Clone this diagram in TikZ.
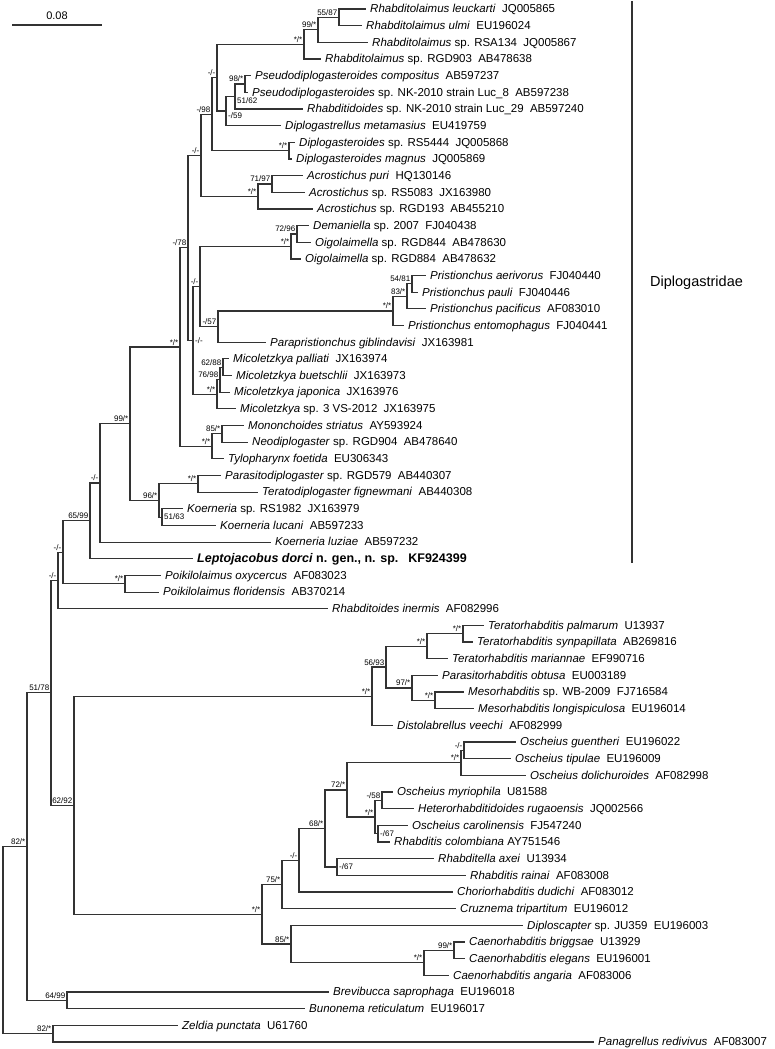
\documentclass[tikz,border=0pt]{standalone}
\usepackage{fontspec}
\setmainfont{Liberation Sans}
\usetikzlibrary{calc}
\newcommand{\accno}[1]{\hspace{0.55em}#1}
\begin{document}
\begin{tikzpicture}[x=1pt,y=-16.66pt,
  br/.style={line width=1.2pt, draw=black!80, line cap=rect},
  leaf/.style={anchor=base west, inner sep=0pt, xshift=5pt, yshift=-3.8pt, font=\fontsize{11.5}{13}\selectfont},
  lab/.style={anchor=south east, inner sep=0pt, xshift=-1.5pt, yshift=1.7pt, font=\fontsize{8}{9}\selectfont},
  labr/.style={anchor=west, inner sep=0pt, xshift=2pt, font=\fontsize{8}{9}\selectfont}]
\useasboundingbox (0,0.4598) rectangle (774,63.425);
% ---- leaf tips
\coordinate (t1) at (365,1);  \coordinate (t2) at (361,2);  \coordinate (t3) at (367,3);
\coordinate (t4) at (320,4);  \coordinate (t5) at (250,5);  \coordinate (t6) at (247,6);
\coordinate (t7) at (302,7);  \coordinate (t8) at (280,8);  \coordinate (t9) at (294,9);
\coordinate (t10) at (291,10); \coordinate (t11) at (302,11); \coordinate (t12) at (304,12);
\coordinate (t13) at (312,13); \coordinate (t14) at (308,14); \coordinate (t15) at (310,15);
\coordinate (t16) at (300,16); \coordinate (t17) at (425,17); \coordinate (t18) at (417,18);
\coordinate (t19) at (425,19); \coordinate (t20) at (403,20); \coordinate (t21) at (265,21);
\coordinate (t22) at (228,22); \coordinate (t23) at (231,23); \coordinate (t24) at (229,24);
\coordinate (t25) at (235,25); \coordinate (t26) at (243,26); \coordinate (t27) at (247,27);
\coordinate (t28) at (223,28); \coordinate (t29) at (220,29); \coordinate (t30) at (257,30);
\coordinate (t31) at (182,31); \coordinate (t32) at (215,32); \coordinate (t33) at (270,33);
\coordinate (t34) at (192,34); \coordinate (t35) at (160,35); \coordinate (t36) at (158,36);
\coordinate (t37) at (327,37); \coordinate (t38) at (483,38); \coordinate (t39) at (472,39);
\coordinate (t40) at (447,40); \coordinate (t41) at (437,41); \coordinate (t42) at (463,42);
\coordinate (t43) at (473,43); \coordinate (t44) at (392,44); \coordinate (t45) at (515,45);
\coordinate (t46) at (510,46); \coordinate (t47) at (525,47); \coordinate (t48) at (392,48);
\coordinate (t49) at (413,49); \coordinate (t50) at (407,50); \coordinate (t51) at (389,51);
\coordinate (t52) at (433,52); \coordinate (t53) at (465,53); \coordinate (t54) at (452,54);
\coordinate (t55) at (455,55); \coordinate (t56) at (522,56); \coordinate (t57) at (464,57);
\coordinate (t58) at (464,58); \coordinate (t59) at (448,59); \coordinate (t60) at (328,60);
\coordinate (t61) at (304,61); \coordinate (t62) at (177,62); \coordinate (t63) at (593,63);
% ---- internal nodes
\coordinate (nA) at (339,1.5);
\coordinate (nB) at (318,2.25);
\coordinate (nC) at (304,3.125);
\coordinate (n98) at (245,5.5);
\coordinate (n5162) at (235,6.25);
\coordinate (n59) at (226,7.125);
\coordinate (nD) at (217,5.125);
\coordinate (nDipl) at (289,9.5);
\coordinate (nE) at (212,7.3125);
\coordinate (n7197) at (272,11.5);
\coordinate (nAcro) at (258,12.25);
\coordinate (nF) at (201,9.78125);
\coordinate (n7296) at (297,14.5);
\coordinate (nDem) at (291,15.25);
\coordinate (n5481) at (412,17.5);
\coordinate (n83) at (407,18.25);
\coordinate (nPris) at (393,19.125);
\coordinate (n57) at (218,20.0625);
\coordinate (nK) at (200,17.65625);
\coordinate (n6288) at (223,22.5);
\coordinate (n7698) at (220,23.25);
\coordinate (nMic) at (217,24.125);
\coordinate (nL) at (193,20.8906);
\coordinate (nG) at (188,15.3359);
\coordinate (n85) at (222,26.5);
\coordinate (nMono) at (212,27.25);
\coordinate (nI) at (180,21.293);
\coordinate (nPara) at (198,29.5);
\coordinate (n5163) at (162,31.5);
\coordinate (n96) at (159,30.5);
\coordinate (n99) at (130,25.8965);
\coordinate (nX) at (100,29.4482);
\coordinate (n6599) at (90,31.7241);
\coordinate (nPoik) at (125,35.5);
\coordinate (n63) at (63,33.6121);
\coordinate (n58) at (58,35.306);
\coordinate (nPal) at (463,38.5);
\coordinate (nTer) at (427,39.25);
\coordinate (nMeso) at (435,42.5);
\coordinate (n97) at (412,41.75);
\coordinate (n5693) at (386,40.5);
\coordinate (nRA) at (372,42.25);
\coordinate (nGue) at (464,45.5);
\coordinate (nOsc) at (461,46.25);
\coordinate (n58b) at (382,48.5);
\coordinate (n67a) at (378,50.5);
\coordinate (nSS) at (375,49.5);
\coordinate (n72) at (347,47.875);
\coordinate (n67b) at (337,52.5);
\coordinate (n68) at (325,50.1875);
\coordinate (nDD) at (299,52.0938);
\coordinate (n75) at (282,53.5469);
\coordinate (n99c) at (454,57.5);
\coordinate (nCae) at (424,58.25);
\coordinate (n85b) at (291,57.125);
\coordinate (nRB) at (262,55.3359);
\coordinate (n6292) at (74,48.793);
\coordinate (n5178) at (51,42.0495);
\coordinate (n6499) at (67,60.5);
\coordinate (n8282) at (27,51.2748);
\coordinate (nZel) at (53,62.5);
\coordinate (nRoot) at (3,56.887);
% ---- branches
\draw[br] (t1) -| (nA) |- (t2);
\draw[br] (nA) -| (nB) |- (t3);
\draw[br] (nB) -| (nC) |- (t4);
\draw[br] (t5) -| (n98) |- (t6);
\draw[br] (n98) -| (n5162) |- (t7);
\draw[br] (n5162) -| (n59) |- (t8);
\draw[br] (nC) -| (nD) |- (n59);
\draw[br] (t9) -| (nDipl) |- (t10);
\draw[br] (nD) -| (nE) |- (nDipl);
\draw[br] (t11) -| (n7197) |- (t12);
\draw[br] (n7197) -| (nAcro) |- (t13);
\draw[br] (nE) -| (nF) |- (nAcro);
\draw[br] (t14) -| (n7296) |- (t15);
\draw[br] (n7296) -| (nDem) |- (t16);
\draw[br] (t17) -| (n5481) |- (t18);
\draw[br] (n5481) -| (n83) |- (t19);
\draw[br] (n83) -| (nPris) |- (t20);
\draw[br] (nPris) -| (n57) |- (t21);
\draw[br] (nDem) -| (nK) |- (n57);
\draw[br] (t22) -| (n6288) |- (t23);
\draw[br] (n6288) -| (n7698) |- (t24);
\draw[br] (n7698) -| (nMic) |- (t25);
\draw[br] (nK) -| (nL) |- (nMic);
\draw[br] (nF) -| (nG) |- (nL);
\draw[br] (t26) -| (n85) |- (t27);
\draw[br] (n85) -| (nMono) |- (t28);
\draw[br] (nG) -| (nI) |- (nMono);
\draw[br] (t29) -| (nPara) |- (t30);
\draw[br] (t31) -| (n5163) |- (t32);
\draw[br] (nPara) -| (n96) |- (n5163);
\draw[br] (nI) -| (n99) |- (n96);
\draw[br] (n99) -| (nX) |- (t33);
\draw[br] (nX) -| (n6599) |- (t34);
\draw[br] (t35) -| (nPoik) |- (t36);
\draw[br] (n6599) -| (n63) |- (nPoik);
\draw[br] (n63) -| (n58) |- (t37);
\draw[br] (t38) -| (nPal) |- (t39);
\draw[br] (nPal) -| (nTer) |- (t40);
\draw[br] (t42) -| (nMeso) |- (t43);
\draw[br] (t41) -| (n97) |- (nMeso);
\draw[br] (nTer) -| (n5693) |- (n97);
\draw[br] (n5693) -| (nRA) |- (t44);
\draw[br] (t45) -| (nGue) |- (t46);
\draw[br] (nGue) -| (nOsc) |- (t47);
\draw[br] (t48) -| (n58b) |- (t49);
\draw[br] (t50) -| (n67a) |- (t51);
\draw[br] (n58b) -| (nSS) |- (n67a);
\draw[br] (nOsc) -| (n72) |- (nSS);
\draw[br] (t52) -| (n67b) |- (t53);
\draw[br] (n72) -| (n68) |- (n67b);
\draw[br] (n68) -| (nDD) |- (t54);
\draw[br] (nDD) -| (n75) |- (t55);
\draw[br] (t57) -| (n99c) |- (t58);
\draw[br] (n99c) -| (nCae) |- (t59);
\draw[br] (t56) -| (n85b) |- (nCae);
\draw[br] (n75) -| (nRB) |- (n85b);
\draw[br] (nRA) -| (n6292) |- (nRB);
\draw[br] (n58) -| (n5178) |- (n6292);
\draw[br] (t60) -| (n6499) |- (t61);
\draw[br] (n5178) -| (n8282) |- (n6499);
\draw[br] (t62) -| (nZel) |- (t63);
\draw[br] (n8282) -| (nRoot) |- (nZel);
% ---- support labels
\node[lab] (bA) at (nA) {55/87};
\node[lab] (bB) at (nB) {99/*};
\node[lab] (bC) at (nC) {*/*};
\node[lab] (bD) at (nD) {-/-};
\node[lab] (b98) at (n98) {98/*};
\node[labr,yshift=-4.5pt] (b5162) at (n5162) {51/62};
\node[labr,yshift=-5pt] (b59) at (n59) {-/59};
\node[lab] (bE) at (nE) {-/98};
\node[lab] (bDipl) at (nDipl) {*/*};
\node[lab] (bF) at (nF) {-/-};
\node[lab] (b7197) at (n7197) {71/97};
\node[lab] (bAcro) at (nAcro) {*/*};
\node[lab] (b7296) at (n7296) {72/96};
\node[lab] (bDem) at (nDem) {*/*};
\node[lab] (bG) at (nG) {-/78};
\node[lab] (bK) at (nK) {-/-};
\node[lab] (b5481) at (n5481) {54/81};
\node[lab] (b83) at (n83) {83/*};
\node[lab] (bPris) at (nPris) {*/*};
\node[lab] (b57) at (n57) {-/57};
\node[labr] (bL) at (nL) {-/-};
\node[lab] (b6288) at (n6288) {62/88};
\node[lab] (b7698) at (n7698) {76/98};
\node[lab] (bMic) at (nMic) {*/*};
\node[lab] (bI) at (nI) {*/*};
\node[lab] (b85) at (n85) {85/*};
\node[lab] (bMono) at (nMono) {*/*};
\node[lab] (b99) at (n99) {99/*};
\node[lab] (bPara) at (nPara) {*/*};
\node[lab] (b96) at (n96) {96/*};
\node[labr] (b5163) at (n5163) {51/63};
\node[lab] (bX) at (nX) {-/-};
\node[lab] (b6599) at (n6599) {65/99};
\node[lab] (b63) at (n63) {-/-};
\node[lab] (b58) at (n58) {-/-};
\node[lab] (bPoik) at (nPoik) {*/*};
\node[lab] (b5178) at (n5178) {51/78};
\node[lab] (bPal) at (nPal) {*/*};
\node[lab] (bTer) at (nTer) {*/*};
\node[lab] (b5693) at (n5693) {56/93};
\node[lab] (b97) at (n97) {97/*};
\node[lab] (bMeso) at (nMeso) {*/*};
\node[lab] (bRA) at (nRA) {*/*};
\node[lab] (b6292) at (n6292) {62/92};
\node[lab] (bGue) at (nGue) {-/-};
\node[lab] (bOsc) at (nOsc) {*/*};
\node[lab] (b72) at (n72) {72/*};
\node[lab] (b58b) at (n58b) {-/58};
\node[lab] (bSS) at (nSS) {*/*};
\node[labr] (b67a) at (n67a) {-/67};
\node[lab] (b68) at (n68) {68/*};
\node[lab] (bDD) at (nDD) {-/-};
\node[labr] (b67b) at (n67b) {-/67};
\node[lab] (b75) at (n75) {75/*};
\node[lab] (bRB) at (nRB) {*/*};
\node[lab] (b85b) at (n85b) {85/*};
\node[lab] (b99c) at (n99c) {99/*};
\node[lab] (bCae) at (nCae) {*/*};
\node[lab] (b8282) at (n8282) {82/*};
\node[lab] (b6499) at (n6499) {64/99};
\node[lab] (bZel) at (nZel) {82/*};
% ---- leaf labels
\node[leaf] (l1) at (t1) {\textit{Rhabditolaimus leuckarti}\accno{JQ005865}};
\node[leaf] (l2) at (t2) {\textit{Rhabditolaimus ulmi}\accno{EU196024}};
\node[leaf] (l3) at (t3) {\textit{Rhabditolaimus} sp. RSA134\accno{JQ005867}};
\node[leaf] (l4) at (t4) {\textit{Rhabditolaimus} sp. RGD903\accno{AB478638}};
\node[leaf] (l5) at (t5) {\textit{Pseudodiplogasteroides compositus}\accno{AB597237}};
\node[leaf] (l6) at (t6) {\textit{Pseudodiplogasteroides} sp. NK-2010 strain Luc\_8\accno{AB597238}};
\node[leaf] (l7) at (t7) {\textit{Rhabditidoides} sp. NK-2010 strain Luc\_29\accno{AB597240}};
\node[leaf] (l8) at (t8) {\textit{Diplogastrellus metamasius}\accno{EU419759}};
\node[leaf] (l9) at (t9) {\textit{Diplogasteroides} sp. RS5444\accno{JQ005868}};
\node[leaf] (l10) at (t10) {\textit{Diplogasteroides magnus}\accno{JQ005869}};
\node[leaf] (l11) at (t11) {\textit{Acrostichus puri}\accno{HQ130146}};
\node[leaf] (l12) at (t12) {\textit{Acrostichus} sp. RS5083\accno{JX163980}};
\node[leaf] (l13) at (t13) {\textit{Acrostichus} sp. RGD193\accno{AB455210}};
\node[leaf] (l14) at (t14) {\textit{Demaniella} sp. 2007\accno{FJ040438}};
\node[leaf] (l15) at (t15) {\textit{Oigolaimella} sp. RGD844\accno{AB478630}};
\node[leaf] (l16) at (t16) {\textit{Oigolaimella} sp. RGD884\accno{AB478632}};
\node[leaf] (l17) at (t17) {\textit{Pristionchus aerivorus}\accno{FJ040440}};
\node[leaf] (l18) at (t18) {\textit{Pristionchus pauli}\accno{FJ040446}};
\node[leaf] (l19) at (t19) {\textit{Pristionchus pacificus}\accno{AF083010}};
\node[leaf] (l20) at (t20) {\textit{Pristionchus entomophagus}\accno{FJ040441}};
\node[leaf] (l21) at (t21) {\textit{Parapristionchus giblindavisi}\accno{JX163981}};
\node[leaf] (l22) at (t22) {\textit{Micoletzkya palliati}\accno{JX163974}};
\node[leaf] (l23) at (t23) {\textit{Micoletzkya buetschlii}\accno{JX163973}};
\node[leaf] (l24) at (t24) {\textit{Micoletzkya japonica}\accno{JX163976}};
\node[leaf] (l25) at (t25) {\textit{Micoletzkya} sp. 3 VS-2012\accno{JX163975}};
\node[leaf] (l26) at (t26) {\textit{Mononchoides striatus}\accno{AY593924}};
\node[leaf] (l27) at (t27) {\textit{Neodiplogaster} sp. RGD904\accno{AB478640}};
\node[leaf] (l28) at (t28) {\textit{Tylopharynx foetida}\accno{EU306343}};
\node[leaf] (l29) at (t29) {\textit{Parasitodiplogaster} sp. RGD579\accno{AB440307}};
\node[leaf] (l30) at (t30) {\textit{Teratodiplogaster fignewmani}\accno{AB440308}};
\node[leaf] (l31) at (t31) {\textit{Koerneria} sp. RS1982\accno{JX163979}};
\node[leaf] (l32) at (t32) {\textit{Koerneria lucani}\accno{AB597233}};
\node[leaf] (l33) at (t33) {\textit{Koerneria luziae}\accno{AB597232}};
\node[leaf,font=\fontsize{12.5}{14}\selectfont\bfseries] (l34) at (t34) {\textit{Leptojacobus dorci} n. gen., n. sp.\hspace{0.8em}KF924399};
\node[leaf] (l35) at (t35) {\textit{Poikilolaimus oxycercus}\accno{AF083023}};
\node[leaf] (l36) at (t36) {\textit{Poikilolaimus floridensis}\accno{AB370214}};
\node[leaf] (l37) at (t37) {\textit{Rhabditoides inermis}\accno{AF082996}};
\node[leaf] (l38) at (t38) {\textit{Teratorhabditis palmarum}\accno{U13937}};
\node[leaf] (l39) at (t39) {\textit{Teratorhabditis synpapillata}\accno{AB269816}};
\node[leaf] (l40) at (t40) {\textit{Teratorhabditis mariannae}\accno{EF990716}};
\node[leaf] (l41) at (t41) {\textit{Parasitorhabditis obtusa}\accno{EU003189}};
\node[leaf] (l42) at (t42) {\textit{Mesorhabditis} sp. WB-2009\accno{FJ716584}};
\node[leaf] (l43) at (t43) {\textit{Mesorhabditis longispiculosa}\accno{EU196014}};
\node[leaf] (l44) at (t44) {\textit{Distolabrellus veechi}\accno{AF082999}};
\node[leaf] (l45) at (t45) {\textit{Oscheius guentheri}\accno{EU196022}};
\node[leaf] (l46) at (t46) {\textit{Oscheius tipulae}\accno{EU196009}};
\node[leaf] (l47) at (t47) {\textit{Oscheius dolichuroides}\accno{AF082998}};
\node[leaf] (l48) at (t48) {\textit{Oscheius myriophila}\accno{U81588}};
\node[leaf] (l49) at (t49) {\textit{Heterorhabditidoides rugaoensis}\accno{JQ002566}};
\node[leaf] (l50) at (t50) {\textit{Oscheius carolinensis}\accno{FJ547240}};
\node[leaf] (l51) at (t51) {\textit{Rhabditis colombiana} AY751546};
\node[leaf] (l52) at (t52) {\textit{Rhabditella axei}\accno{U13934}};
\node[leaf] (l53) at (t53) {\textit{Rhabditis rainai}\accno{AF083008}};
\node[leaf] (l54) at (t54) {\textit{Choriorhabditis dudichi}\accno{AF083012}};
\node[leaf] (l55) at (t55) {\textit{Cruznema tripartitum}\accno{EU196012}};
\node[leaf] (l56) at (t56) {\textit{Diploscapter} sp. JU359\accno{EU196003}};
\node[leaf] (l57) at (t57) {\textit{Caenorhabditis briggsae}\accno{U13929}};
\node[leaf] (l58) at (t58) {\textit{Caenorhabditis elegans}\accno{EU196001}};
\node[leaf] (l59) at (t59) {\textit{Caenorhabditis angaria}\accno{AF083006}};
\node[leaf] (l60) at (t60) {\textit{Brevibucca saprophaga}\accno{EU196018}};
\node[leaf] (l61) at (t61) {\textit{Bunonema reticulatum}\accno{EU196017}};
\node[leaf] (l62) at (t62) {\textit{Zeldia punctata}\accno{U61760}};
\node[leaf] (l63) at (t63) {\textit{Panagrellus redivivus}\accno{AF083007}};
% ---- Diplogastridae bracket
\coordinate (dtop) at (632,0.58);
\coordinate (dbot) at (632,34.19);
\draw[br] (dtop) -- (dbot);
\node[anchor=west, inner sep=0pt, font=\fontsize{14.5}{16}\selectfont] (dlab) at (650,17.45) {Diplogastridae};
% ---- scale bar
\coordinate (s1) at (13,1.96);
\coordinate (s2) at (101,1.96);
\draw[br] (s1) -- (s2);
\node[anchor=south, inner sep=0pt, yshift=5pt, font=\fontsize{11}{12}\selectfont] (scl) at ($(s1)!0.5!(s2)$) {0.08};
\end{tikzpicture}
\end{document}
